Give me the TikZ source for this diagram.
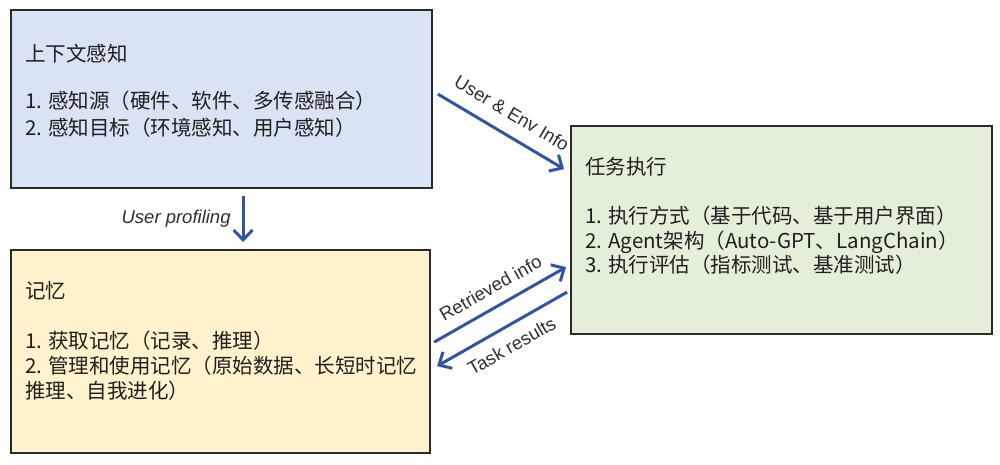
\documentclass[tikz,border=0pt]{standalone}
\usepackage{fontspec}
\setmainfont{Noto Sans CJK SC}
\newfontfamily\labfont{Liberation Sans}
\usetikzlibrary{arrows.meta,calc}
\definecolor{boxblue}{HTML}{DAE3F3}
\definecolor{boxyellow}{HTML}{FFF2CC}
\definecolor{boxgreen}{HTML}{E2F0D9}
\definecolor{boxline}{HTML}{2A2A2A}
\definecolor{arrowblue}{HTML}{3056A0}
\tikzset{
  panel/.style={draw=boxline, line width=1.8pt, inner sep=0pt},
  boxtext/.style={anchor=base west, inner sep=0pt, font=\fontsize{20.5}{25}\selectfont, text=black!88},
  flow/.style={draw=arrowblue, line width=3pt, -{Straight Barb[length=10pt,width=19pt,line width=3pt]}},
  flowlabel/.style={inner sep=0pt, font=\labfont\fontsize{18.5}{21}\selectfont, text=black!82}
}
\begin{document}
\begin{tikzpicture}[x=1pt,y=-1pt]
\useasboundingbox (0,0) rectangle (1000,464);
% panels
\node[panel, fill=boxblue, minimum width=421pt, minimum height=178pt] (ctx) at (221.5,99) {};
\node[panel, fill=boxyellow, minimum width=419pt, minimum height=203pt] (mem) at (220.5,351.5) {};
\node[panel, fill=boxgreen, minimum width=421pt, minimum height=208pt] (task) at (781.5,230) {};
% panel texts
\node[boxtext] (ctxT) at (25,61) {上下文感知};
\node[boxtext] (ctxA) at (25,108) {1. 感知源（硬件、软件、多传感融合）};
\node[boxtext] (ctxB) at (25,135) {2. 感知目标（环境感知、用户感知）};
\node[boxtext] (memT) at (25,298) {记忆};
\node[boxtext] (memA) at (25,348) {1. 获取记忆（记录、推理）};
\node[boxtext] (memB) at (25,373) {2. 管理和使用记忆（原始数据、长短时记忆};
\node[boxtext] (memC) at (25,398) {推理、自我进化）};
\node[boxtext] (taskT) at (585,174) {任务执行};
\node[boxtext] (taskA) at (585,223) {1. 执行方式（基于代码、基于用户界面）};
\node[boxtext] (taskB) at (585,248) {2. Agent架构（Auto-GPT、LangChain）};
\node[boxtext] (taskC) at (585,272) {3. 执行评估（指标测试、基准测试）};
% connector end points
\coordinate (ctxOut) at ($(ctx.north east)+(5,85)$);
\coordinate (taskIn1) at ($(task.north west)+(-6,44)$);
\coordinate (ctxDown) at ($(ctx.south west)+(233,7)$);
\coordinate (memUp) at ($(mem.north west)+(233,-7)$);
\coordinate (memOut) at ($(mem.north west)+(424,93)$);
\coordinate (taskIn2) at ($(task.north west)+(-4,142)$);
\coordinate (taskOut) at ($(task.north west)+(-3,167)$);
\coordinate (memIn) at ($(mem.north west)+(427,117)$);
% connectors
\draw[flow] (ctxOut) -- node[flowlabel, midway, sloped, above=13pt] (lblEnv) {User \& Env Info} (taskIn1);
\draw[flow] (ctxDown) -- node[flowlabel, midway, left=11pt, font=\labfont\itshape\fontsize{18.5}{21}\selectfont] (lblProf) {User profiling} (memUp);
\draw[flow] (memOut) -- node[flowlabel, midway, sloped, above=11pt] (lblRet) {Retrieved info} (taskIn2);
\draw[flow] (taskOut) -- node[flowlabel, midway, sloped, below=11pt] (lblRes) {Task results} (memIn);
\end{tikzpicture}
\end{document}
